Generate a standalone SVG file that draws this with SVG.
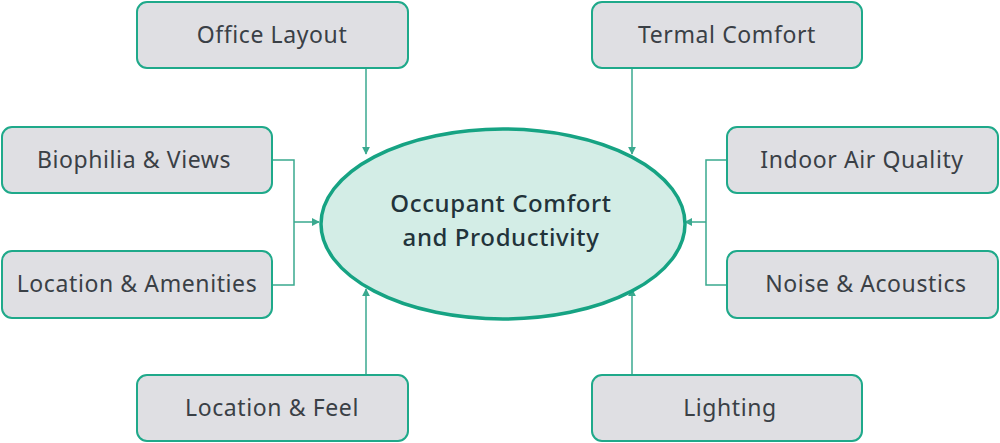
<svg xmlns="http://www.w3.org/2000/svg" width="1000" height="443" viewBox="0 0 1000 443">
<style>
.box{fill:#dfdfe3;stroke:#1fa98a;stroke-width:2}
.t{font-family:"Noto Sans",sans-serif;font-size:23px;fill:#3a4046;text-anchor:middle;letter-spacing:0.6px}
.m{font-size:24px;fill:#22333a;font-weight:500}
.c{fill:none;stroke:#3aa98f;stroke-width:1.5}
</style>
<defs><marker id="a" viewBox="0 0 10 10" refX="9" refY="5" markerWidth="8" markerHeight="8" orient="auto" markerUnits="userSpaceOnUse"><path d="M0,0L10,5L0,10z" fill="#3aa98f"/></marker></defs>
<rect width="1000" height="443" fill="#fff"/>
<g id="connectors">
<path class="c" d="M366,68V154" marker-end="url(#a)"/>
<path class="c" d="M632,68V154" marker-end="url(#a)"/>
<path class="c" d="M366,375V289" marker-end="url(#a)"/>
<path class="c" d="M632,375V289" marker-end="url(#a)"/>
<path class="c" d="M272,160H294V285H272M294,222H319" marker-end="url(#a)"/>
<path class="c" d="M727,160H706V285H727M706,222H685" marker-end="url(#a)"/>
</g>
<g id="center">
<ellipse cx="503" cy="224" rx="182" ry="95" fill="#d3ede6" stroke="#16a383" stroke-width="3.5"/>
<text class="t m" x="501" y="212">Occupant Comfort</text>
<text class="t m" x="501" y="246">and Productivity</text>
</g>
<g id="n1"><rect class="box" x="137" y="2" width="271" height="66" rx="10"/><text class="t" x="272" y="43">Office Layout</text></g>
<g id="n2"><rect class="box" x="592" y="2" width="270" height="66" rx="10"/><text class="t" x="727" y="43">Termal Comfort</text></g>
<g id="n3"><rect class="box" x="2" y="127" width="270" height="66" rx="10"/><text class="t" x="134" y="168">Biophilia &amp; Views</text></g>
<g id="n4"><rect class="box" x="2" y="251" width="270" height="67" rx="10"/><text class="t" x="137" y="292">Location &amp; Amenities</text></g>
<g id="n5"><rect class="box" x="727" y="127" width="271" height="66" rx="10"/><text class="t" x="862" y="168">Indoor Air Quality</text></g>
<g id="n6"><rect class="box" x="727" y="251" width="271" height="67" rx="10"/><text class="t" x="866" y="292">Noise &amp; Acoustics</text></g>
<g id="n7"><rect class="box" x="137" y="375" width="271" height="66" rx="10"/><text class="t" x="272" y="416">Location &amp; Feel</text></g>
<g id="n8"><rect class="box" x="592" y="375" width="270" height="66" rx="10"/><text class="t" x="730" y="416">Lighting</text></g>
</svg>
